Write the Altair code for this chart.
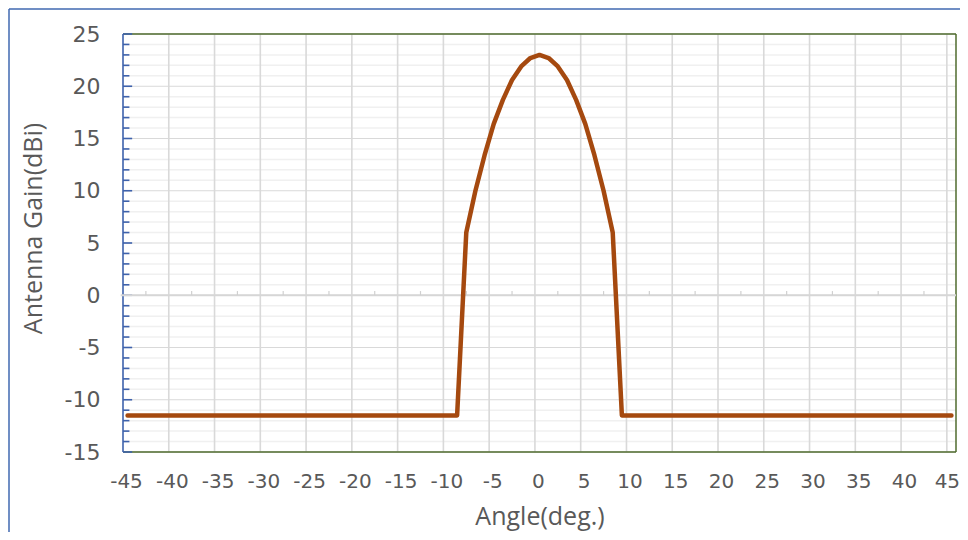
import altair as alt
import pandas as pd

# ---- data ----
angles = list(range(-45, 46))  # degrees, 1-degree steps
gain = (
    [-11.5, -11.5, -11.5, -11.5, -11.5, -11.5, -11.5, -11.5, -11.5, -11.5,
     -11.5, -11.5, -11.5, -11.5, -11.5, -11.5, -11.5, -11.5, -11.5, -11.5,
     -11.5, -11.5, -11.5, -11.5, -11.5, -11.5, -11.5, -11.5, -11.5, -11.5,
     -11.5, -11.5, -11.5, -11.5, -11.5, -11.5, -11.5]          # -45 .. -9
    + [6.0, 10.0, 13.4, 16.4, 18.7, 20.6, 21.9, 22.7, 23.0,
       22.7, 21.9, 20.6, 18.7, 16.4, 13.4, 10.0, 6.0]          # -8 .. 8
    + [-11.5, -11.5, -11.5, -11.5, -11.5, -11.5, -11.5, -11.5, -11.5, -11.5,
       -11.5, -11.5, -11.5, -11.5, -11.5, -11.5, -11.5, -11.5, -11.5, -11.5,
       -11.5, -11.5, -11.5, -11.5, -11.5, -11.5, -11.5, -11.5, -11.5, -11.5,
       -11.5, -11.5, -11.5, -11.5, -11.5, -11.5, -11.5]          # 9 .. 45
)
x_ticks = [-45, -40, -35, -30, -25, -20, -15, -10, -5, 0, 5, 10, 15, 20, 25, 30, 35, 40, 45]
y_ticks = [-15, -10, -5, 0, 5, 10, 15, 20, 25]
y_minor = [v for v in range(-15, 26) if v not in y_ticks]
x_grid = [v for v in x_ticks if v != -45]
zero_ticks = [-42.5, -37.5, -32.5, -27.5, -22.5, -17.5, -12.5, -7.5, -2.5,
              2.5, 7.5, 12.5, 17.5, 22.5, 27.5, 32.5, 37.5, 42.5]

X_MIN, X_MAX = -45, 46
Y_MIN, Y_MAX = -15, 25

# Excel category axis: points sit at the centre of each 1-degree slot
curve = pd.DataFrame({"angle": [a + 0.5 for a in angles], "gain": gain})

W, H = 833, 418
GRID = "#D9D9D9"
MINOR = "#F0F0F0"
BLUE = "#3E62AC"
GREEN = "#4F6B2E"
TXT = "#595959"

xs = alt.Scale(domain=[X_MIN, X_MAX], nice=False, zero=False)
ys = alt.Scale(domain=[Y_MIN, Y_MAX], nice=False, zero=False)

xaxis = alt.Axis(values=x_ticks, grid=False, domain=False, ticks=False,
                 labelExpr="'' + datum.value",
                 labelFont="DejaVu Sans", labelFontSize=20, labelColor=TXT,
                 labelPadding=19, labelOverlap=False, labelFlush=False,
                 labelBound=False,
                 labelOffset={"condition": {"test": "datum.value >= 45", "value": 0},
                              "value": 3},
                 title="Angle(deg.)", titleFont="Open Sans", titleFontSize=25,
                 titleFontWeight="normal", titleColor=TXT,
                 titleBaseline="alphabetic", titleY=72)
yaxis = alt.Axis(values=y_ticks, grid=False, domain=False, ticks=False,
                 labelExpr="'' + datum.value",
                 labelFont="DejaVu Sans", labelFontSize=22, labelColor=TXT,
                 labelPadding=23, labelFlush=False, labelBound=False,
                 title="Antenna Gain(dBi)", titleFont="Open Sans", titleFontSize=25,
                 titleFontWeight="normal", titleColor=TXT,
                 titleAngle=270, titleBaseline="middle", titleAlign="center",
                 titleX=-90, titleY=194)

def hrules(values, color, width, x1=X_MIN, x2=X_MAX):
    return alt.Chart(pd.DataFrame({"y": values})).mark_rule(
        color=color, strokeWidth=width).encode(
        y=alt.Y("y:Q", scale=ys), x=alt.datum(x1, scale=xs), x2=alt.datum(x2))

def vrules(values, color, width, y1=Y_MIN, y2=Y_MAX):
    return alt.Chart(pd.DataFrame({"x": values})).mark_rule(
        color=color, strokeWidth=width).encode(
        x=alt.X("x:Q", scale=xs), y=alt.datum(y1, scale=ys), y2=alt.datum(y2))

minor_grid = hrules(y_minor, MINOR, 1.5)
major_grid = hrules(y_ticks, GRID, 1)
vert_grid = vrules(x_grid, GRID, 1.6)

# blue left axis with inward ticks
y_axis_line = vrules([X_MIN], BLUE, 1.6)
y_major_ticks = hrules(y_ticks, BLUE, 1.6, X_MIN, X_MIN + 1.0)
y_minor_ticks = hrules(y_minor, BLUE, 1.6, X_MIN, X_MIN + 0.7)

# horizontal axis crossing at zero
zero_line = hrules([0], "#D6D6D6", 2, X_MIN - 0.25, X_MAX)
zero_tick_marks = vrules(zero_ticks, "#D0D0D0", 1.2, 0, 0.4)

# plot-area border (top, bottom, right)
border_h = hrules([Y_MIN, Y_MAX], GREEN, 1.5)
border_v = vrules([X_MAX], GREEN, 1.5)

line = alt.Chart(curve).mark_line(color="#A5490F", strokeWidth=4.5,
                                  strokeJoin="round", strokeCap="round").encode(
    x=alt.X("angle:Q", scale=xs, axis=xaxis),
    y=alt.Y("gain:Q", scale=ys, axis=yaxis),
)

# outer frame of the picture (left and top edges)
frame_left = alt.Chart(pd.DataFrame({"k": [0]})).mark_rule(
    color="#4169B0", strokeWidth=1.5).encode(
    x=alt.value(-114), y=alt.value(-25), y2=alt.value(H + 80))
frame_top = alt.Chart(pd.DataFrame({"k": [0]})).mark_rule(
    color="#4169B0", strokeWidth=1.5).encode(
    x=alt.value(-114), x2=alt.value(W + 4), y=alt.value(-25))

chart = alt.layer(
    minor_grid, major_grid, vert_grid, border_h, border_v,
    y_axis_line, y_major_ticks, y_minor_ticks,
    zero_line, zero_tick_marks, line, frame_left, frame_top,
).properties(
    width=W, height=H,
    padding={"left": 115, "top": 26, "right": 4, "bottom": 80},
    autosize=alt.AutoSizeParams(type="none"),
    background="white",
).configure_view(stroke=None)

chart.save("out.html", embed_options={"renderer": "svg", "actions": False})
